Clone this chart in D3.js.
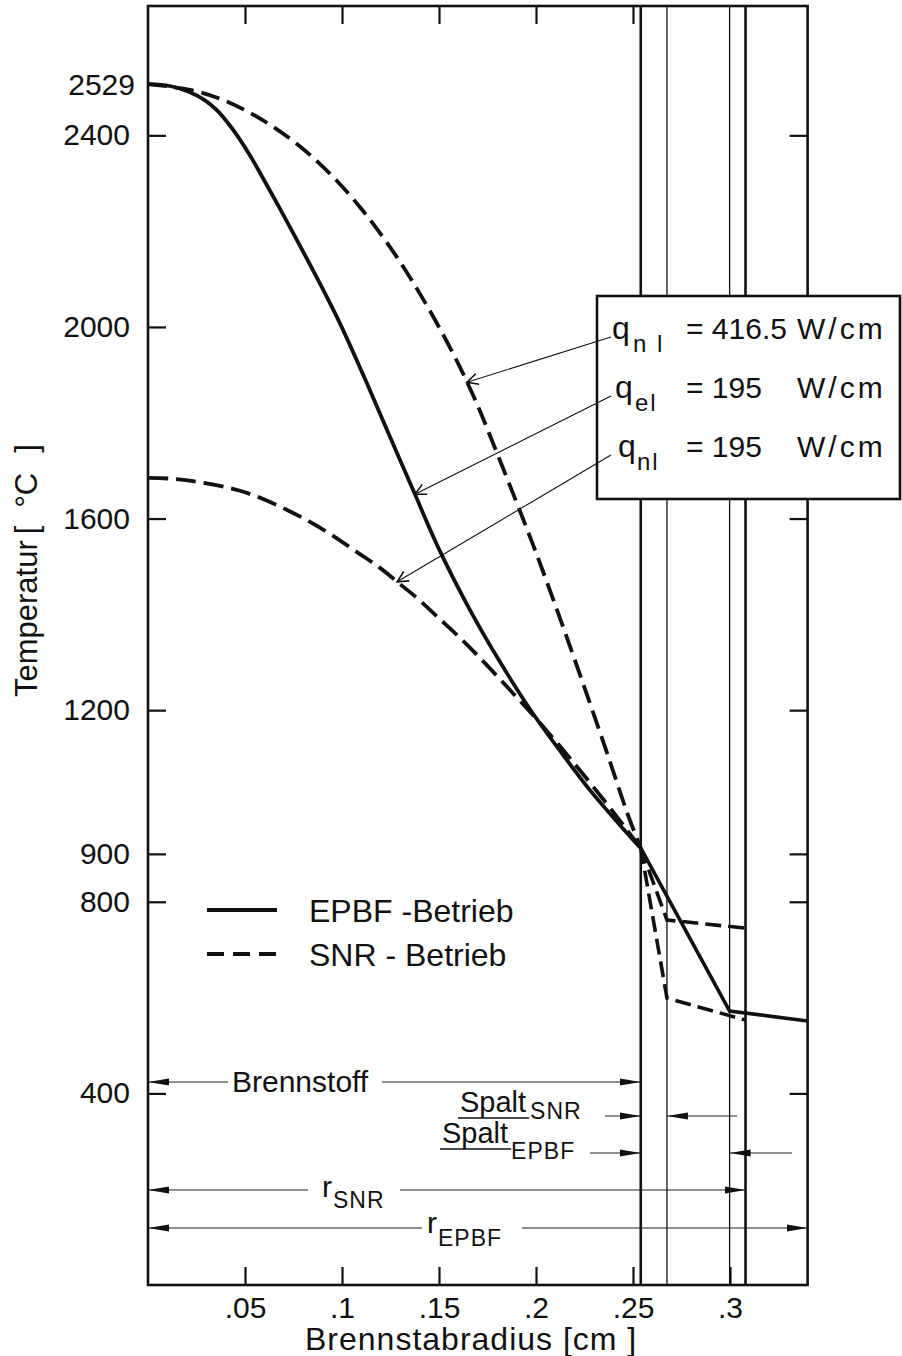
<!DOCTYPE html>
<html lang="de">
<head>
  <meta charset="UTF-8">
  <title>Temperaturprofil im Brennstab</title>
  <script src="https://d3js.org/d3.v7.min.js"></script>
  <style>
    body { margin: 0; background: #fff; }
    svg { display: block; font-family: 'Liberation Sans', Arial, sans-serif; }
    text { fill: #111; }
  </style>
</head>
<body>
  <div id="chart"></div>
  <script>
    // zone radii [cm]
    const fuelR = 0.254, snrCladIn = 0.2675, epbfCladIn = 0.2998, snrCladOut = 0.308, epbfCladOut = 0.34;

    // EPBF operation, q_el = 195 W/cm (solid)
    const epbfR = [0, 0.0113, 0.0217, 0.0294, 0.0356, 0.0423, 0.0474, 0.0526, 0.0577, 0.068, 0.0784, 0.0887, 0.099, 0.1093, 0.1196, 0.1366, 0.1505, 0.166, 0.1814, 0.1969, 0.2124, 0.2278, 0.2433, fuelR];
    const epbfT = [2507, 2503, 2490, 2473, 2452, 2420, 2391, 2358, 2322, 2247, 2169, 2090, 2007, 1915, 1819, 1660, 1532, 1409, 1301, 1202, 1115, 1033, 960, 912];
    const epbfOuterR = [fuelR, epbfCladIn, epbfCladOut];
    const epbfOuterT = [912, 572, 551];

    // SNR operation, q_nl = 416.5 W/cm (dashed)
    const snrHighR = [0, 0.0217, 0.0387, 0.0526, 0.0644, 0.0768, 0.0887, 0.099, 0.1093, 0.1196, 0.1299, 0.1402, 0.1505, 0.1608, 0.1696, 0.1747, 0.1881, 0.1985, 0.2088, 0.2191, 0.2263, 0.2366, 0.2469, fuelR];
    const snrHighT = [2507, 2495, 2474, 2447, 2418, 2382, 2340, 2298, 2250, 2196, 2136, 2069, 1996, 1916, 1839, 1789, 1653, 1545, 1432, 1315, 1232, 1111, 987, 912];
    const snrHighOuterR = [fuelR, snrCladIn, snrCladOut];
    const snrHighOuterT = [912, 599, 553];

    // SNR operation, q_nl = 195 W/cm (dashed)
    const snrLowR = [0, 0.0129, 0.0232, 0.0371, 0.0474, 0.0593, 0.0717, 0.0835, 0.0954, 0.1077, 0.1196, 0.1284, 0.1387, 0.1505, 0.1608, 0.1711, 0.1866, 0.2021, 0.2191, 0.2366, 0.2469, fuelR];
    const snrLowT = [1685, 1683, 1678, 1668, 1658, 1641, 1618, 1593, 1564, 1530, 1497, 1468, 1434, 1390, 1351, 1309, 1242, 1173, 1092, 1004, 950, 912];
    const snrLowOuterR = [fuelR, snrCladIn, snrCladOut];
    const snrLowOuterT = [912, 762, 745];

    const xTicks = [0.05, 0.1, 0.15, 0.2, 0.25, 0.3];
    const xTickLabels = [".05", ".1", ".15", ".2", ".25", ".3"];
    const yTicks = [400, 800, 900, 1200, 1600, 2000, 2400];
    const peakLabel = "2529";

    const boxSymbols = ["q", "q", "q"];
    const boxSubs = ["n l", "el", "nl"];
    const boxValues = ["= 416.5", "= 195", "= 195"];
    const boxUnit = "W/cm";
    const leaderR = [0.1644, 0.1376, 0.1284]; // where the leader arrows touch the curves

    const legendLabels = ["EPBF -Betrieb", "SNR - Betrieb"];

    const width = 902, height = 1356;
    const x = d3.scaleLinear().domain([0, 0.34]).range([148, 807.6]);
    const y = d3.scaleLinear().domain([0, 2670]).range([1285, 6]);

    const svg = d3.select("#chart").append("svg")
      .attr("width", width)
      .attr("height", height);

    const defs = svg.append("defs");
    defs.append("marker")
      .attr("id", "dim")
      .attr("viewBox", "0 -5 22 10")
      .attr("refX", 21).attr("refY", 0)
      .attr("markerWidth", 22).attr("markerHeight", 10)
      .attr("markerUnits", "userSpaceOnUse")
      .attr("orient", "auto")
      .append("path")
      .attr("d", "M0,-3.6L21,0L0,3.6Z")
      .attr("fill", "#111");
    defs.append("marker")
      .attr("id", "open")
      .attr("viewBox", "-1 -7 14 14")
      .attr("refX", 11).attr("refY", 0)
      .attr("markerWidth", 14).attr("markerHeight", 14)
      .attr("markerUnits", "userSpaceOnUse")
      .attr("orient", "auto")
      .append("path")
      .attr("d", "M0,-5.5L11,0L0,5.5")
      .attr("fill", "none")
      .attr("stroke", "#111")
      .attr("stroke-width", 1.6);

    // frame
    svg.append("rect")
      .attr("x", x(0)).attr("y", y(2670))
      .attr("width", x(0.34) - x(0))
      .attr("height", y(0) - y(2670))
      .attr("fill", "none")
      .attr("stroke", "#111")
      .attr("stroke-width", 2.6);

    function styleAxis(g) {
      g.select(".domain").remove();
      g.selectAll(".tick line").attr("stroke", "#111").attr("stroke-width", 2.2);
      g.selectAll(".tick text").attr("fill", "#111").attr("font-size", 30);
      g.attr("font-family", null).attr("font-size", null);
    }

    svg.append("g")
      .attr("transform", `translate(0,${y(0)})`)
      .call(d3.axisBottom(x).tickValues(xTicks).tickSize(-18).tickPadding(12)
        .tickFormat((d, i) => xTickLabels[i]))
      .call(styleAxis);
    svg.append("g")
      .attr("transform", `translate(0,${y(2670)})`)
      .call(d3.axisTop(x).tickValues(xTicks.slice(0, 5)).tickSize(-18).tickFormat(""))
      .call(styleAxis);
    svg.append("g")
      .attr("transform", `translate(${x(0)},0)`)
      .call(d3.axisLeft(y).tickValues(yTicks).tickSize(-18).tickPadding(18)
        .tickFormat(d3.format("d")))
      .call(styleAxis);
    svg.append("g")
      .attr("transform", `translate(${x(0.34)},0)`)
      .call(d3.axisRight(y).tickValues(yTicks).tickSize(-18).tickFormat(""))
      .call(styleAxis);

    svg.append("text")
      .attr("x", x(0) - 13)
      .attr("y", y(epbfT[0]))
      .attr("dy", "0.36em")
      .attr("text-anchor", "end")
      .attr("font-size", 30)
      .text(peakLabel);

    // zone boundaries
    const zoneRadii = [fuelR, snrCladIn, epbfCladIn, snrCladOut];
    svg.selectAll(".zone")
      .data(zoneRadii)
      .enter()
      .append("line")
      .attr("class", "zone")
      .attr("x1", d => x(d)).attr("x2", d => x(d))
      .attr("y1", y(2670)).attr("y2", y(0))
      .attr("stroke", "#111")
      .attr("stroke-width", d => (d === fuelR || d === snrCladOut) ? 2.6 : 1.3);

    // curves
    const fuelLine = d3.line().x(d => x(d[0])).y(d => y(d[1])).curve(d3.curveCatmullRom.alpha(0.5));
    const outerLine = d3.line().x(d => x(d[0])).y(d => y(d[1]));
    const series = [
      { R: epbfR, T: epbfT, oR: epbfOuterR, oT: epbfOuterT, dash: null },
      { R: snrHighR, T: snrHighT, oR: snrHighOuterR, oT: snrHighOuterT, dash: "19,8" },
      { R: snrLowR, T: snrLowT, oR: snrLowOuterR, oT: snrLowOuterT, dash: "20,8" }
    ];
    series.forEach(s => {
      svg.append("path")
        .attr("d", fuelLine(d3.zip(s.R, s.T)))
        .attr("fill", "none")
        .attr("stroke", "#111")
        .attr("stroke-width", 3.8)
        .attr("stroke-dasharray", s.dash);
      svg.append("path")
        .attr("d", outerLine(d3.zip(s.oR, s.oT)))
        .attr("fill", "none")
        .attr("stroke", "#111")
        .attr("stroke-width", 3.6)
        .attr("stroke-dasharray", s.dash ? "16,7" : null);
    });

    // parameter box
    const box = { x: 597, y: 296, w: 303, h: 203 };
    svg.append("rect")
      .attr("x", box.x).attr("y", box.y)
      .attr("width", box.w).attr("height", box.h)
      .attr("fill", "#fff")
      .attr("stroke", "#111")
      .attr("stroke-width", 2.6);

    const rowBase = [339, 398, 457];
    const rows = svg.selectAll(".row")
      .data(boxSymbols)
      .enter()
      .append("g")
      .attr("class", "row");
    rows.append("text")
      .attr("x", (d, i) => 612 + i * 3)
      .attr("y", (d, i) => rowBase[i])
      .attr("font-size", 32)
      .text(d => d);
    rows.append("text")
      .attr("x", (d, i) => 633 + i * 2)
      .attr("y", (d, i) => rowBase[i] + 13)
      .attr("font-size", 24)
      .attr("letter-spacing", 2)
      .text((d, i) => boxSubs[i]);
    rows.append("text")
      .attr("x", 686)
      .attr("y", (d, i) => rowBase[i])
      .attr("font-size", 30)
      .text((d, i) => boxValues[i]);
    rows.append("text")
      .attr("x", 797)
      .attr("y", (d, i) => rowBase[i])
      .attr("font-size", 30)
      .attr("letter-spacing", 3)
      .text(boxUnit);

    // leader arrows from the box to the curves
    const targets = [series[1], series[0], series[2]];
    targets.forEach((s, i) => {
      const tAt = d3.scaleLinear().domain(s.R).range(s.T);
      svg.append("line")
        .attr("x1", 611).attr("y1", rowBase[i] - 2)
        .attr("x2", x(leaderR[i])).attr("y2", y(tAt(leaderR[i])))
        .attr("stroke", "#111")
        .attr("stroke-width", 1.1)
        .attr("marker-end", "url(#open)");
    });

    // legend
    const legend = svg.selectAll(".legend")
      .data(legendLabels)
      .enter()
      .append("g")
      .attr("class", "legend")
      .attr("transform", (d, i) => `translate(207,${910 + i * 44})`);
    legend.append("line")
      .attr("x1", 0).attr("x2", 70)
      .attr("stroke", "#111")
      .attr("stroke-width", 4.2)
      .attr("stroke-dasharray", (d, i) => i ? "17,9" : null);
    legend.append("text")
      .attr("x", 102)
      .attr("dy", "0.36em")
      .attr("font-size", 32)
      .text(d => d);

    // dimension arrows (radii of the zones)
    function dim(x1, yy, r) {
      svg.append("line")
        .attr("x1", x1).attr("y1", yy)
        .attr("x2", x(r)).attr("y2", yy)
        .attr("stroke", "#222")
        .attr("stroke-width", 1.2)
        .attr("marker-end", "url(#dim)");
    }
    function label(tx, ty, main, sub, size, subDx, subDy, underline) {
      const t = svg.append("text").attr("x", tx).attr("y", ty).attr("font-size", size).text(main);
      if (underline) {
        const bb = t.node().getBBox();
        svg.append("line")
          .attr("x1", bb.x - 2).attr("x2", bb.x + bb.width + 3)
          .attr("y1", ty + 6).attr("y2", ty + 6)
          .attr("stroke", "#111").attr("stroke-width", 1.5);
      }
      if (sub) {
        const bb = t.node().getBBox();
        svg.append("text")
          .attr("x", bb.x + bb.width + subDx).attr("y", ty + subDy)
          .attr("font-size", 23)
          .attr("letter-spacing", 1)
          .text(sub);
      }
    }

    label(232, 1092, "Brennstoff", null, 30);
    dim(228, 1082, 0);
    dim(382, 1082, fuelR);

    label(460, 1112, "Spalt", "SNR", 29, 4, 7, true);
    dim(605, 1116, fuelR);
    dim(737, 1116, snrCladIn);

    label(442, 1143, "Spalt", "EPBF", 29, 3, 16, true);
    dim(590, 1153, fuelR);
    dim(792, 1153, epbfCladIn);

    label(322, 1197, "r", "SNR", 30, 1, 11, false);
    dim(308, 1190, 0);
    dim(400, 1190, snrCladOut);

    label(427, 1233, "r", "EPBF", 30, 1, 13, false);
    dim(422, 1228, 0);
    dim(522, 1228, epbfCladOut);

    // axis titles
    svg.append("text")
      .attr("x", 305).attr("y", 1350)
      .attr("font-size", 32)
      .attr("letter-spacing", 1)
      .text("Brennstabradius\u00a0[cm\u00a0]");
    const yTitle = svg.append("text")
      .attr("transform", "translate(37,697) rotate(-90)")
      .attr("font-size", 31);
    yTitle.append("tspan").text("Temperatur");
    yTitle.append("tspan").attr("dx", 6).text("[");
    yTitle.append("tspan").attr("dx", 18).text("°C");
    yTitle.append("tspan").attr("dx", 20).text("]");
  </script>
</body>
</html>
